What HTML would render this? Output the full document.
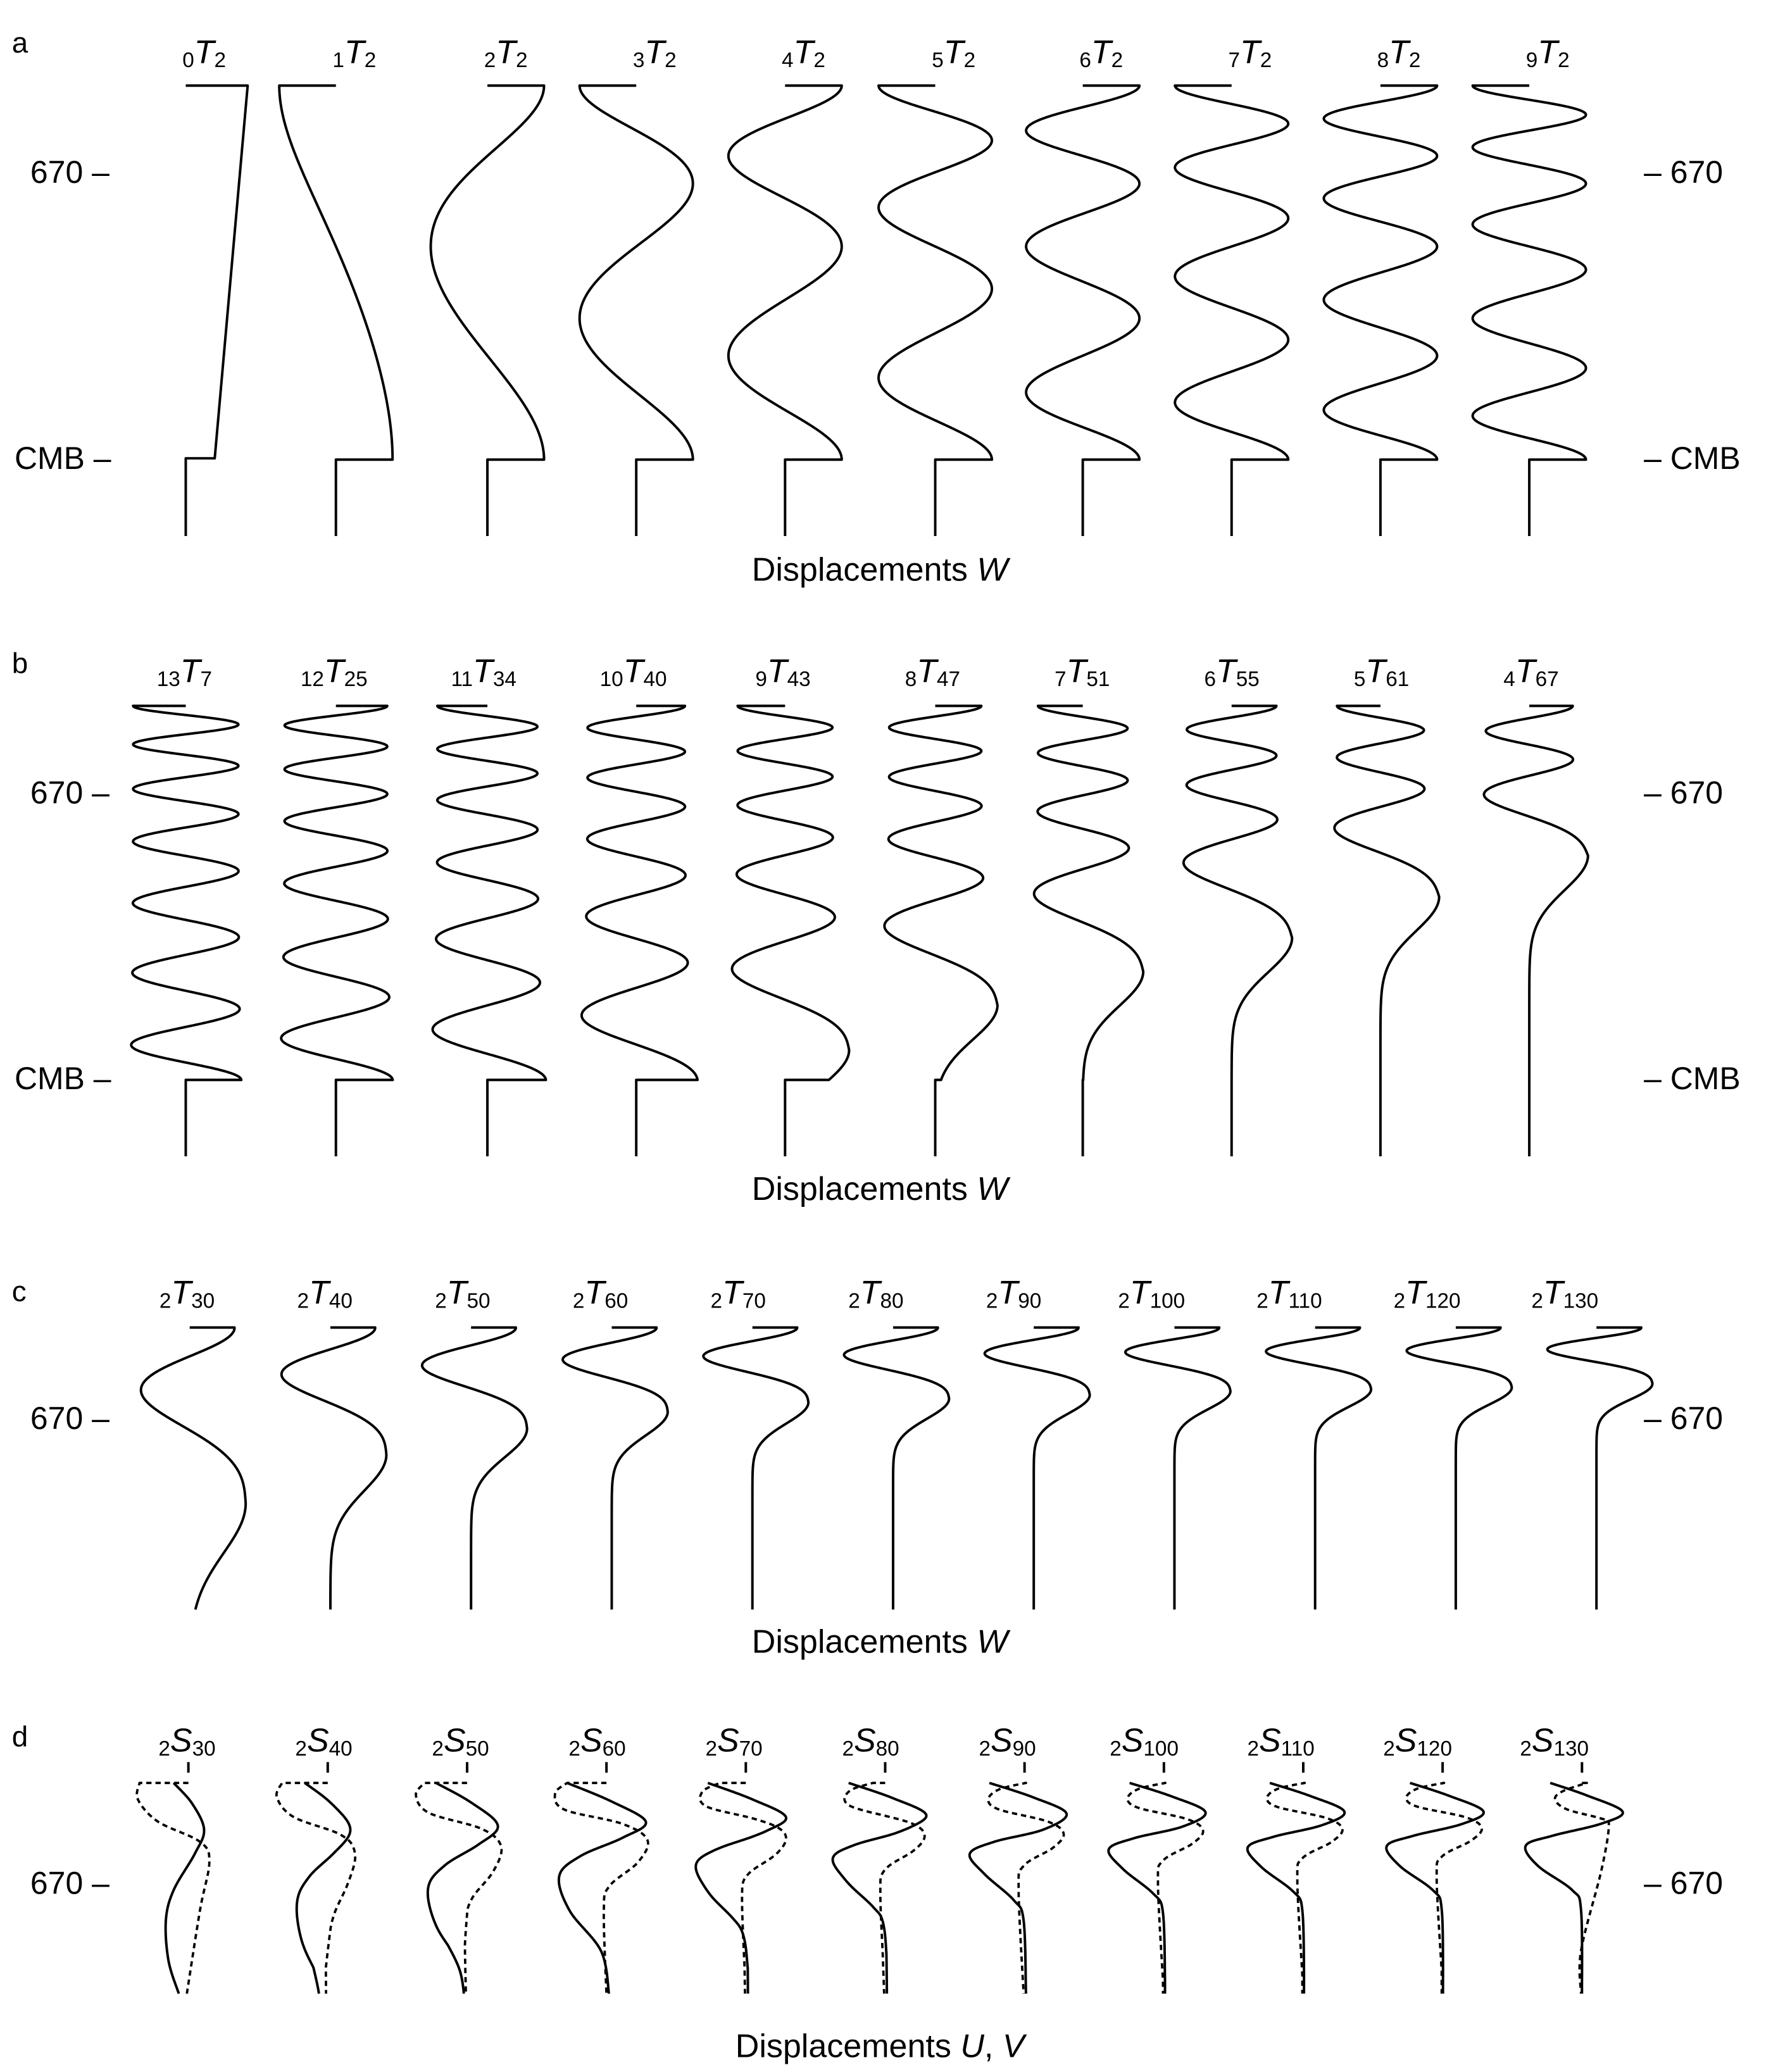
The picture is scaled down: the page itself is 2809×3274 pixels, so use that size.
<!DOCTYPE html>
<html><head><meta charset="utf-8">
<style>
html,body{margin:0;padding:0;background:#fff;}
svg{display:block;}
text{font-family:"Liberation Sans",sans-serif;fill:#000;}
</style></head>
<body>
<svg id="fig" xmlns="http://www.w3.org/2000/svg" width="2809" height="3274" viewBox="0 0 1349.8 1573.3">
<rect x="0" y="0" width="1349.8" height="1573.3" fill="#fff"/>
<g font-size="22">
<text x="9" y="40">a</text>
<text x="9" y="511">b</text>
<text x="9" y="988">c</text>
<text x="9" y="1326">d</text>
</g>
<g font-size="24">
<text x="23" y="139">670 –</text>
<text x="1248" y="139">– 670</text>
<text x="11" y="356">CMB –</text>
<text x="1248" y="356">– CMB</text>
<text x="23" y="610">670 –</text>
<text x="1248" y="610">– 670</text>
<text x="11" y="827">CMB –</text>
<text x="1248" y="827">– CMB</text>
<text x="23" y="1085">670 –</text>
<text x="1248" y="1085">– 670</text>
<text x="23" y="1438">670 –</text>
<text x="1248" y="1438">– 670</text>
</g>
<g font-size="25" text-anchor="middle">
<text x="668" y="441">Displacements <tspan font-style="italic">W</tspan></text>
<text x="668" y="911">Displacements <tspan font-style="italic">W</tspan></text>
<text x="668" y="1255">Displacements <tspan font-style="italic">W</tspan></text>
<text x="668" y="1562">Displacements <tspan font-style="italic">U</tspan>, <tspan font-style="italic">V</tspan></text>
</g>
<g text-anchor="middle">
<text x="155" y="48"><tspan font-size="16" dy="3">0</tspan><tspan font-size="25" font-style="italic" dy="-3">T</tspan><tspan font-size="16" dy="3">2</tspan></text>
<text x="269" y="48"><tspan font-size="16" dy="3">1</tspan><tspan font-size="25" font-style="italic" dy="-3">T</tspan><tspan font-size="16" dy="3">2</tspan></text>
<text x="384" y="48"><tspan font-size="16" dy="3">2</tspan><tspan font-size="25" font-style="italic" dy="-3">T</tspan><tspan font-size="16" dy="3">2</tspan></text>
<text x="497" y="48"><tspan font-size="16" dy="3">3</tspan><tspan font-size="25" font-style="italic" dy="-3">T</tspan><tspan font-size="16" dy="3">2</tspan></text>
<text x="610" y="48"><tspan font-size="16" dy="3">4</tspan><tspan font-size="25" font-style="italic" dy="-3">T</tspan><tspan font-size="16" dy="3">2</tspan></text>
<text x="724" y="48"><tspan font-size="16" dy="3">5</tspan><tspan font-size="25" font-style="italic" dy="-3">T</tspan><tspan font-size="16" dy="3">2</tspan></text>
<text x="836" y="48"><tspan font-size="16" dy="3">6</tspan><tspan font-size="25" font-style="italic" dy="-3">T</tspan><tspan font-size="16" dy="3">2</tspan></text>
<text x="949" y="48"><tspan font-size="16" dy="3">7</tspan><tspan font-size="25" font-style="italic" dy="-3">T</tspan><tspan font-size="16" dy="3">2</tspan></text>
<text x="1062" y="48"><tspan font-size="16" dy="3">8</tspan><tspan font-size="25" font-style="italic" dy="-3">T</tspan><tspan font-size="16" dy="3">2</tspan></text>
<text x="1175" y="48"><tspan font-size="16" dy="3">9</tspan><tspan font-size="25" font-style="italic" dy="-3">T</tspan><tspan font-size="16" dy="3">2</tspan></text>

<text x="140" y="518"><tspan font-size="16" dy="3">13</tspan><tspan font-size="25" font-style="italic" dy="-3">T</tspan><tspan font-size="16" dy="3">7</tspan></text>
<text x="253.6" y="518"><tspan font-size="16" dy="3">12</tspan><tspan font-size="25" font-style="italic" dy="-3">T</tspan><tspan font-size="16" dy="3">25</tspan></text>
<text x="367.2" y="518"><tspan font-size="16" dy="3">11</tspan><tspan font-size="25" font-style="italic" dy="-3">T</tspan><tspan font-size="16" dy="3">34</tspan></text>
<text x="480.8" y="518"><tspan font-size="16" dy="3">10</tspan><tspan font-size="25" font-style="italic" dy="-3">T</tspan><tspan font-size="16" dy="3">40</tspan></text>
<text x="594.4" y="518"><tspan font-size="16" dy="3">9</tspan><tspan font-size="25" font-style="italic" dy="-3">T</tspan><tspan font-size="16" dy="3">43</tspan></text>
<text x="708" y="518"><tspan font-size="16" dy="3">8</tspan><tspan font-size="25" font-style="italic" dy="-3">T</tspan><tspan font-size="16" dy="3">47</tspan></text>
<text x="821.6" y="518"><tspan font-size="16" dy="3">7</tspan><tspan font-size="25" font-style="italic" dy="-3">T</tspan><tspan font-size="16" dy="3">51</tspan></text>
<text x="935.2" y="518"><tspan font-size="16" dy="3">6</tspan><tspan font-size="25" font-style="italic" dy="-3">T</tspan><tspan font-size="16" dy="3">55</tspan></text>
<text x="1048.8" y="518"><tspan font-size="16" dy="3">5</tspan><tspan font-size="25" font-style="italic" dy="-3">T</tspan><tspan font-size="16" dy="3">61</tspan></text>
<text x="1162.4" y="518"><tspan font-size="16" dy="3">4</tspan><tspan font-size="25" font-style="italic" dy="-3">T</tspan><tspan font-size="16" dy="3">67</tspan></text>

<text x="142" y="990"><tspan font-size="16" dy="3">2</tspan><tspan font-size="25" font-style="italic" dy="-3">T</tspan><tspan font-size="16" dy="3">30</tspan></text>
<text x="246.6" y="990"><tspan font-size="16" dy="3">2</tspan><tspan font-size="25" font-style="italic" dy="-3">T</tspan><tspan font-size="16" dy="3">40</tspan></text>
<text x="351.2" y="990"><tspan font-size="16" dy="3">2</tspan><tspan font-size="25" font-style="italic" dy="-3">T</tspan><tspan font-size="16" dy="3">50</tspan></text>
<text x="455.8" y="990"><tspan font-size="16" dy="3">2</tspan><tspan font-size="25" font-style="italic" dy="-3">T</tspan><tspan font-size="16" dy="3">60</tspan></text>
<text x="560.4" y="990"><tspan font-size="16" dy="3">2</tspan><tspan font-size="25" font-style="italic" dy="-3">T</tspan><tspan font-size="16" dy="3">70</tspan></text>
<text x="665" y="990"><tspan font-size="16" dy="3">2</tspan><tspan font-size="25" font-style="italic" dy="-3">T</tspan><tspan font-size="16" dy="3">80</tspan></text>
<text x="769.6" y="990"><tspan font-size="16" dy="3">2</tspan><tspan font-size="25" font-style="italic" dy="-3">T</tspan><tspan font-size="16" dy="3">90</tspan></text>
<text x="874.2" y="990"><tspan font-size="16" dy="3">2</tspan><tspan font-size="25" font-style="italic" dy="-3">T</tspan><tspan font-size="16" dy="3">100</tspan></text>
<text x="978.8" y="990"><tspan font-size="16" dy="3">2</tspan><tspan font-size="25" font-style="italic" dy="-3">T</tspan><tspan font-size="16" dy="3">110</tspan></text>
<text x="1083.4" y="990"><tspan font-size="16" dy="3">2</tspan><tspan font-size="25" font-style="italic" dy="-3">T</tspan><tspan font-size="16" dy="3">120</tspan></text>
<text x="1188" y="990"><tspan font-size="16" dy="3">2</tspan><tspan font-size="25" font-style="italic" dy="-3">T</tspan><tspan font-size="16" dy="3">130</tspan></text>

<text x="142" y="1330"><tspan font-size="16" dy="3">2</tspan><tspan font-size="25" font-style="italic" dy="-3">S</tspan><tspan font-size="16" dy="3">30</tspan></text>
<text x="245.8" y="1330"><tspan font-size="16" dy="3">2</tspan><tspan font-size="25" font-style="italic" dy="-3">S</tspan><tspan font-size="16" dy="3">40</tspan></text>
<text x="349.6" y="1330"><tspan font-size="16" dy="3">2</tspan><tspan font-size="25" font-style="italic" dy="-3">S</tspan><tspan font-size="16" dy="3">50</tspan></text>
<text x="453.4" y="1330"><tspan font-size="16" dy="3">2</tspan><tspan font-size="25" font-style="italic" dy="-3">S</tspan><tspan font-size="16" dy="3">60</tspan></text>
<text x="557.2" y="1330"><tspan font-size="16" dy="3">2</tspan><tspan font-size="25" font-style="italic" dy="-3">S</tspan><tspan font-size="16" dy="3">70</tspan></text>
<text x="661" y="1330"><tspan font-size="16" dy="3">2</tspan><tspan font-size="25" font-style="italic" dy="-3">S</tspan><tspan font-size="16" dy="3">80</tspan></text>
<text x="764.8" y="1330"><tspan font-size="16" dy="3">2</tspan><tspan font-size="25" font-style="italic" dy="-3">S</tspan><tspan font-size="16" dy="3">90</tspan></text>
<text x="868.6" y="1330"><tspan font-size="16" dy="3">2</tspan><tspan font-size="25" font-style="italic" dy="-3">S</tspan><tspan font-size="16" dy="3">100</tspan></text>
<text x="972.4" y="1330"><tspan font-size="16" dy="3">2</tspan><tspan font-size="25" font-style="italic" dy="-3">S</tspan><tspan font-size="16" dy="3">110</tspan></text>
<text x="1076.2" y="1330"><tspan font-size="16" dy="3">2</tspan><tspan font-size="25" font-style="italic" dy="-3">S</tspan><tspan font-size="16" dy="3">120</tspan></text>
<text x="1180" y="1330"><tspan font-size="16" dy="3">2</tspan><tspan font-size="25" font-style="italic" dy="-3">S</tspan><tspan font-size="16" dy="3">130</tspan></text>
</g>
<g id="curves" fill="none" stroke="#000" stroke-width="1.9" stroke-linejoin="round"></g>
</svg>
<script>
(function(){
var NS='http://www.w3.org/2000/svg';
var g=document.getElementById('curves');
function add(d,dash){var p=document.createElementNS(NS,'path');p.setAttribute('d',d);if(dash){p.setAttribute('stroke-dasharray',dash);p.setAttribute('stroke-width','1.8');}g.appendChild(p);}
function f(v){return v.toFixed(2);}
function w(t){return 1+0.5*(1-t)*(1-3*t);}
var H=284;
function tor(o){
  var dt=0.001,tEnd=o.tEnd,tp=o.tp,tStar=Math.min(tp,o.norm);
  var Fs=[0],ts=[0],F=0;
  var K=Math.round(tEnd/dt);
  function gi(t){var r=1-(t/tp)*(t/tp);return w(t)*Math.sqrt(Math.max(0,r));}
  for(var k=1;k<=K;k++){var t=k*dt;F+=0.5*(gi(t-dt)+gi(t))*dt;Fs.push(F);ts.push(t);}
  var ks=Math.min(K,Math.round(tStar/dt));var Fstar=Fs[ks];
  var s=(o.n%2===0)?1:-1;
  var Astar=o.A0*o.grow(tStar,tp);
  var pts=[];
  for(var k=0;k<=K;k+=2){
    var t=ts[k],x;
    if(t<=tStar+1e-9){var phi=o.n*Math.PI*Fs[k]/Fstar;x=s*o.A0*o.grow(t,tp)*Math.cos(phi);}
    else{var q=(t-tStar)/o.d;x=Astar*Math.exp(-q*q);}
    pts.push([o.base+x,o.top+t*H]);
  }
  var d='M'+f(o.base)+' '+f(o.top)+' L'+f(pts[0][0])+' '+f(o.top);
  for(var i=0;i<pts.length;i++)d+=' L'+f(pts[i][0])+' '+f(pts[i][1]);
  if(o.cmb){d+=' L'+f(o.base)+' '+f(o.top+H)+' L'+f(o.base)+' '+f(o.bottom);}
  add(d);
}
// panel a
var ba=[141,255,370,483,596,710,822,935,1048,1161];
add('M141 65 L188 65 L163 348 L141 348 L141 407');
for(var n=1;n<=9;n++){
  tor({base:ba[n],top:65,n:n,tp:100,norm:1,tEnd:1,A0:43,grow:function(){return 1;},d:0.13,cmb:true,bottom:407});
}
// panel b
var nb=[13,12,11,10,9,8,7,6,5,4],tpb=[1.6,1.35,1.2,1.08,0.92,0.80,0.71,0.62,0.51,0.40],Ab=[40,39,38,37,36,35,34,34,33,33];
for(var i=0;i<10;i++){
  tor({base:ba[i],top:536,n:nb[i],tp:tpb[i],norm:1,tEnd:1,A0:Ab[i],grow:function(t,tp){var r=Math.min(t/tp,1);return 1+0.35*Math.pow(r,4);},d:0.13,cmb:true,bottom:878});
}
// panel c
var tpc=[0.47,0.34,0.27,0.225,0.2,0.19,0.18,0.17,0.165,0.16,0.15];
for(var i=0;i<11;i++){
  tor({base:144+106.8*i,top:1008,n:2,tp:tpc[i],norm:1,tEnd:0.754,A0:34,grow:function(t,tp){return 1+0.25*Math.min(t/tp,1);},d:0.4*tpc[i],cmb:false});
}
// panel d
var Y0=1353.8,Y1=1514;
var S30={D:104,sol:[[-11.2,1353.8],[2.8,1369.4],[11.9,1389.3],[4.8,1407.7],[-11.2,1435.2],[-17.1,1458.2],[-15.1,1488.8],[-7.2,1514]],
 dot:[[-37.1,1353.8],[-38.3,1366.4],[-23.1,1383.2],[8.8,1398.5],[15.9,1413.8],[8.8,1450.5],[-1.2,1514]]};
var S60={D:70.7,sol:[[-29.9,1353.8],[4,1367.9],[29.9,1383.2],[11.96,1395.4],[-19.9,1409.2],[-35.9,1424.5],[-27.9,1450.5],[-4,1481.1],[2,1514]],
 dot:[[-29.9,1353.8],[-39,1361.8],[-31.9,1374],[12,1384.7],[31.1,1397],[23.9,1413.8],[2,1432.1],[-2,1450.5],[0,1514]]};
var S90={D:53.9,sol:[[-26.7,1353.8],[6.7,1364.8],[31.9,1377.1],[14.1,1389.3],[-23,1398.5],[-41.6,1407.7],[-30.4,1423],[-8.2,1442.8],[-0.7,1458.2],[1.1,1514]],
 dot:[[1.1,1353.8],[-19.3,1358.7],[-27.5,1366.4],[-19.3,1374],[17.8,1383.2],[29.7,1392.4],[21.5,1403.1],[-0.7,1416.8],[-4.5,1435.2],[-0.7,1514]]};
var S130={D:47.7,sol:[[-24.1,1353.8],[3.7,1363.3],[30.8,1375.5],[14.8,1384.7],[-22.3,1393.9],[-42.7,1401.5],[-33.4,1416.8],[-7.4,1435.2],[-0.7,1450.5],[0,1514]],
 dot:[[3.7,1353.8],[-14.8,1360.2],[-20.4,1366.4],[-11.1,1374],[14.8,1380.9],[20.4,1385.5],[14.8,1419.9],[-0.7,1481.1],[-0.7,1514]]};
function dens(P){
  var out=[];var n=P.length;
  for(var i=0;i<n-1;i++){
    var p0=P[Math.max(0,i-1)],p1=P[i],p2=P[i+1],p3=P[Math.min(n-1,i+2)];
    for(var j=0;j<20;j++){var t=j/20,t2=t*t,t3=t2*t;
      var x=0.5*((2*p1[0])+(-p0[0]+p2[0])*t+(2*p0[0]-5*p1[0]+4*p2[0]-p3[0])*t2+(-p0[0]+3*p1[0]-3*p2[0]+p3[0])*t3);
      var y=0.5*((2*p1[1])+(-p0[1]+p2[1])*t+(2*p0[1]-5*p1[1]+4*p2[1]-p3[1])*t2+(-p0[1]+3*p1[1]-3*p2[1]+p3[1])*t3);
      out.push([x,y]);}
  }
  out.push(P[n-1]);return out;
}
function mk(P,D){
  var Q=dens(P);
  return function(s){
    var y=Y0+s*D;
    if(y<=Q[0][1])return Q[0][0];
    for(var i=1;i<Q.length;i++){
      if(Q[i][1]>=y){var a=Q[i-1],b=Q[i];var dy=b[1]-a[1];if(dy<=0)return b[0];return a[0]+(b[0]-a[0])*(y-a[1])/dy;}
    }
    return Q[Q.length-1][0];
  };
}
var sets=[S30,S60,S90,S130];
for(var k=0;k<4;k++){sets[k].fs=mk(sets[k].sol,sets[k].D);sets[k].fd=mk(sets[k].dot,sets[k].D);}
var Dd=[104,91,80,71,62,57,53.9,50.5,49,48,47.7];
for(var i=0;i<11;i++){
  var base=143+105.8*i;
  var sA,sB,ws,dA,dB,wd;
  if(i<=3){sA=S30;sB=S60;ws=i/3;}else if(i<=6){sA=S60;sB=S90;ws=(i-3)/3;}else{sA=S90;sB=S130;ws=(i-6)/4;}
  if(i<=3){dA=S30;dB=S60;wd=i/3;}else if(i<=6){dA=S60;dB=S90;wd=(i-3)/3;}else if(i<10){dA=S90;dB=S90;wd=0;}else{dA=S130;dB=S130;wd=0;}
  var D=Dd[i];
  var ds='',dd='';
  for(var y=Y0;y<=Y1+0.01;y+=0.5){
    var s=(y-Y0)/D;
    var xs=(1-ws)*sA.fs(s)+ws*sB.fs(s);
    var xd=(1-wd)*dA.fd(s)+wd*dB.fd(s);
    ds+=(ds?' L':'M')+f(base+xs)+' '+f(y);
    dd+=(dd?' L':'M')+f(base+xd)+' '+f(y);
  }
  var x0=(1-wd)*dA.fd(0)+wd*dB.fd(0);
  add(ds);
  add('M'+f(base)+' '+f(Y0)+' L'+f(base+x0)+' '+f(Y0)+' '+dd.replace(/^M/,'L'),'4 3');
  add('M'+f(base)+' 1338 L'+f(base)+' 1346');
}
})();
</script>
</body></html>
